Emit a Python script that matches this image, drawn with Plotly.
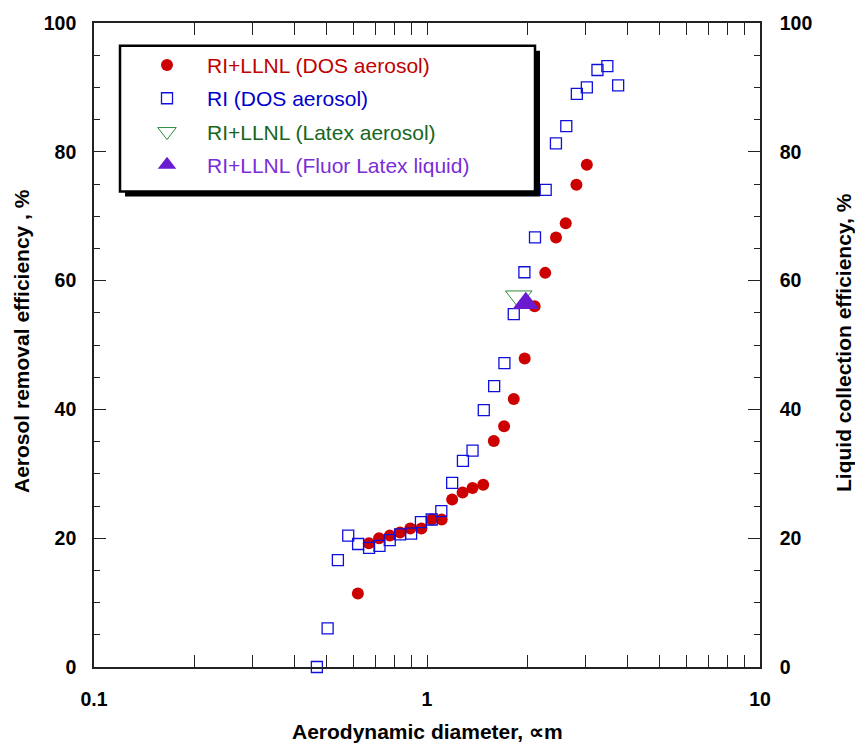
import plotly.graph_objects as go

# ---- data ----
red_x = [0.62, 0.669, 0.718, 0.773, 0.830, 0.891, 0.962, 1.033, 1.107, 1.19, 1.279, 1.37,
         1.475, 1.587, 1.704, 1.822, 1.965, 2.105, 2.265, 2.44, 2.61, 2.81, 3.02]
red_y = [11.4, 19.2, 20.0, 20.4, 20.9, 21.5, 21.5, 22.9, 22.9, 26.0, 27.1, 27.8,
         28.3, 35.1, 37.4, 41.6, 47.9, 56.0, 61.2, 66.7, 68.9, 74.9, 78.0]

blue_x = [0.467, 0.503, 0.540, 0.580, 0.621, 0.670, 0.720, 0.773, 0.830, 0.896, 0.959,
          1.033, 1.104, 1.19, 1.282, 1.37, 1.481, 1.591, 1.708, 1.822, 1.961, 2.11,
          2.272, 2.439, 2.62, 2.818, 3.02, 3.25, 3.48, 3.75]
blue_y = [0.0, 6.0, 16.6, 20.4, 19.1, 18.5, 18.8, 19.7, 20.6, 20.7, 22.5,
          22.9, 24.2, 28.6, 32.0, 33.6, 39.9, 43.6, 47.2, 54.8, 61.3, 66.7,
          74.1, 81.3, 84.0, 89.0, 90.0, 92.7, 93.3, 90.3]

green_x = [1.886]
green_y = [57.5]

purple_x = [1.98]
purple_y = [56.5]

series_names = ["RI+LLNL (DOS aerosol)", "RI (DOS aerosol)",
                "RI+LLNL (Latex aerosol)", "RI+LLNL (Fluor Latex liquid)"]
text_colors = ["#C00000", "#0000CC", "#16661E", "#7A2DD6"]

x_ticks = [0.1, 1, 10]
y_ticks = [0, 20, 40, 60, 80, 100]

FONT = "Liberation Sans, Arial, sans-serif"


def lname(i):
    return '<span style="color:%s">%s</span>' % (text_colors[i], series_names[i])


fig = go.Figure()
fig.add_trace(go.Scatter(x=red_x, y=red_y, mode="markers", name=lname(0), legendgroup="a",
                         cliponaxis=False,
                         marker=dict(symbol="circle", size=12, color="#CC0000",
                                     line=dict(width=0))))
fig.add_trace(go.Scatter(x=blue_x, y=blue_y, mode="markers", name=lname(1), legendgroup="b",
                         cliponaxis=False,
                         marker=dict(symbol="square-open", size=11, color="#1010DD",
                                     line=dict(width=1.3, color="#1010DD"))))
fig.add_trace(go.Scatter(x=green_x, y=green_y, mode="markers", name=lname(2), legendgroup="c",
                         cliponaxis=False,
                         marker=dict(symbol="triangle-down-open", size=23, color="#2E8B3A",
                                     line=dict(width=1, color="#2E8B3A"))))
fig.add_trace(go.Scatter(x=purple_x, y=purple_y, mode="markers", name=lname(3), legendgroup="d",
                         cliponaxis=False, yaxis="y2",
                         marker=dict(symbol="triangle-up", size=23, color="#6A1BD0",
                                     line=dict(width=0))))

minor_x = [m * 10 ** e for e in (-1, 0) for m in range(2, 10)]

axis_common = dict(
    showline=True, linecolor="#222222", linewidth=1.6,
    ticks="inside", ticklen=12, tickwidth=1.3, tickcolor="#222222",
    showgrid=False, zeroline=False,
    tickfont=dict(family=FONT, size=19.5, color="black", weight="bold"),
)

TITLE_FONT = dict(family=FONT, size=21, color="black", weight="bold")

fig.update_layout(
    width=855, height=745,
    margin=dict(l=94, r=95, t=17, b=78, pad=0),
    paper_bgcolor="white", plot_bgcolor="white",
    font=dict(family=FONT, color="black"),
    showlegend=True,
    xaxis=dict(type="log", range=[-1, 1], tickmode="array", tickvals=x_ticks,
               ticktext=["0.1", "1", "10"], mirror="allticks", ticklabelstandoff=14,
               minor=dict(tickmode="array", tickvals=minor_x, ticklen=6, ticks="inside",
                          tickcolor="#222222", tickwidth=1.2),
               **axis_common),
    yaxis=dict(range=[0, 100], tickmode="array", tickvals=y_ticks, ticklabelstandoff=12,
               minor=dict(dtick=5, ticklen=6, ticks="inside", tickcolor="#222222", tickwidth=1.2),
               **axis_common),
    yaxis2=dict(range=[0, 100], overlaying="y", side="right", anchor="x",
                tickmode="array", tickvals=y_ticks, ticklabelstandoff=14,
                minor=dict(dtick=5, ticklen=6, ticks="inside", tickcolor="#222222", tickwidth=1.2),
                **axis_common),
    legend=dict(x=(127 - 94) / 666, y=(667 - 39) / 650, xanchor="left", yanchor="top",
                bgcolor="rgba(0,0,0,0)", borderwidth=0, itemwidth=70,
                traceorder="grouped", tracegroupgap=3,
                font=dict(family=FONT, size=21)),
    shapes=[
        dict(type="rect", xref="paper", yref="paper",
             x0=(125 - 94) / 666, x1=(540 - 94) / 666,
             y0=(667 - 192) / 650, y1=(667 - 45) / 650,
             fillcolor="black", line=dict(width=0), layer="above"),
        dict(type="rect", xref="paper", yref="paper",
             x0=(120 - 94) / 666, x1=(535 - 94) / 666,
             y0=(667 - 187) / 650, y1=(667 - 40) / 650,
             fillcolor="white", line=dict(width=2.5, color="black"), layer="above"),
    ],
    annotations=[
        dict(text="Aerodynamic diameter, ∝m", xref="paper", yref="paper", x=0.5, y=0,
             xanchor="center", yanchor="middle", yshift=-64, showarrow=False,
             font=TITLE_FONT),
        dict(text="Aerosol removal efficiency , %", xref="paper", yref="paper", x=0, y=0.5,
             xanchor="center", yanchor="middle", xshift=-73, yshift=4, textangle=-90,
             showarrow=False, font=TITLE_FONT),
        dict(text="Liquid collection efficiency, %", xref="paper", yref="paper", x=1, y=0.5,
             xanchor="center", yanchor="middle", xshift=83, yshift=2, textangle=-90,
             showarrow=False, font=TITLE_FONT),
    ],
)

fig.write_html("out.html")
